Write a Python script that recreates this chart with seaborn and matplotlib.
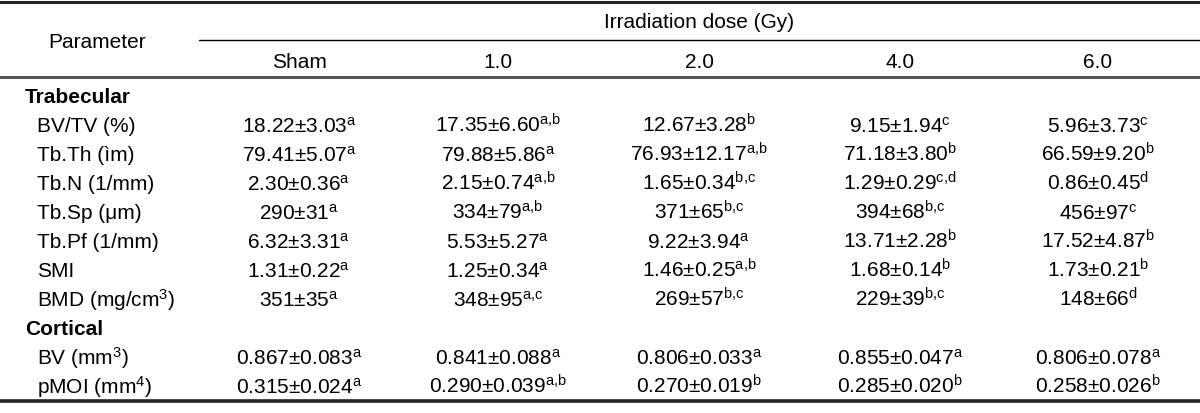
import matplotlib
matplotlib.use("Agg")
import matplotlib.pyplot as plt
import seaborn as sns

# Table content
doses = ["Sham", "1.0", "2.0", "4.0", "6.0"]
sections = ["Trabecular", "Cortical"]
trab_params = ["BV/TV (%)", "Tb.Th (ìm)", "Tb.N (1/mm)", "Tb.Sp (μm)",
               "Tb.Pf (1/mm)", "SMI", "BMD (mg/cm$^{3}$)"]
cort_params = ["BV (mm$^{3}$)", "pMOI (mm$^{4}$)"]

means = [
    ["18.22", "17.35", "12.67", "9.15", "5.96"],
    ["79.41", "79.88", "76.93", "71.18", "66.59"],
    ["2.30", "2.15", "1.65", "1.29", "0.86"],
    ["290", "334", "371", "394", "456"],
    ["6.32", "5.53", "9.22", "13.71", "17.52"],
    ["1.31", "1.25", "1.46", "1.68", "1.73"],
    ["351", "348", "269", "229", "148"],
    ["0.867", "0.841", "0.806", "0.855", "0.806"],
    ["0.315", "0.290", "0.270", "0.285", "0.258"],
]
sds = [
    ["3.03", "6.60", "3.28", "1.94", "3.73"],
    ["5.07", "5.86", "12.17", "3.80", "9.20"],
    ["0.36", "0.74", "0.34", "0.29", "0.45"],
    ["31", "79", "65", "68", "97"],
    ["3.31", "5.27", "3.94", "2.28", "4.87"],
    ["0.22", "0.34", "0.25", "0.14", "0.21"],
    ["35", "95", "57", "39", "66"],
    ["0.083", "0.088", "0.033", "0.047", "0.078"],
    ["0.024", "0.039", "0.019", "0.020", "0.026"],
]
letters = [
    ["a", "a,b", "b", "c", "c"],
    ["a", "a", "a,b", "b", "b"],
    ["a", "a,b", "b,c", "c,d", "d"],
    ["a", "a,b", "b,c", "b,c", "c"],
    ["a", "a", "a", "b", "b"],
    ["a", "a", "a,b", "b", "b"],
    ["a", "a,c", "b,c", "b,c", "d"],
    ["a", "a", "a", "a", "a"],
    ["a", "a,b", "b", "b", "b"],
]

sns.set_theme(style="white")
plt.rcParams["font.family"] = ["Liberation Sans", "DejaVu Sans"]
plt.rcParams["mathtext.fontset"] = "custom"
plt.rcParams["mathtext.rm"] = "Liberation Sans"
plt.rcParams["mathtext.it"] = "Liberation Sans"
plt.rcParams["text.color"] = "black"

W, H = 1200, 414
fig = plt.figure(figsize=(W / 100, H / 100), dpi=100)
ax = fig.add_axes([0, 0, 1, 1])
ax.set_xlim(0, W)
ax.set_ylim(H, 0)
ax.axis("off")

fs = 15
base = 7.5  # baseline offset below the row centre, in pixels
col_x = [299, 498, 699, 900, 1098]


def put(x, y, s, ha="center", **kw):
    ax.text(x, y + base, s, ha=ha, va="baseline", fontsize=fs, color="black", **kw)


# rules
ax.axhline(3, color="#222222", lw=2.2)
ax.plot([199, W], [41, 41], color="black", lw=1)
ax.axhline(78, color="#555555", lw=2.2)
ax.axhline(402, color="#222222", lw=2.6)

# header
put(97, 40, "Parameter")
put(699, 20, "Irradiation dose (Gy)")
for x, d in zip(col_x, doses):
    put(x, 60, d)

# body
y0, dy = 96, 29.0
rows = [(sections[0], None)] + [(p, i) for i, p in enumerate(trab_params)] \
    + [(sections[1], None)] + [(p, i + len(trab_params)) for i, p in enumerate(cort_params)]
for k, (label, idx) in enumerate(rows):
    y = y0 + k * dy
    if idx is None:
        put(25, y, label, ha="left", fontweight="bold")
        continue
    put(37, y, label, ha="left")
    for j, x in enumerate(col_x):
        sup = letters[idx][j].replace(",", "{,}")
        cell = f"{means[idx][j]}±{sds[idx][j]}" + r"$^{\mathrm{" + sup + "}}$"
        put(x, y, cell)

fig.savefig("out.png", dpi=100)
